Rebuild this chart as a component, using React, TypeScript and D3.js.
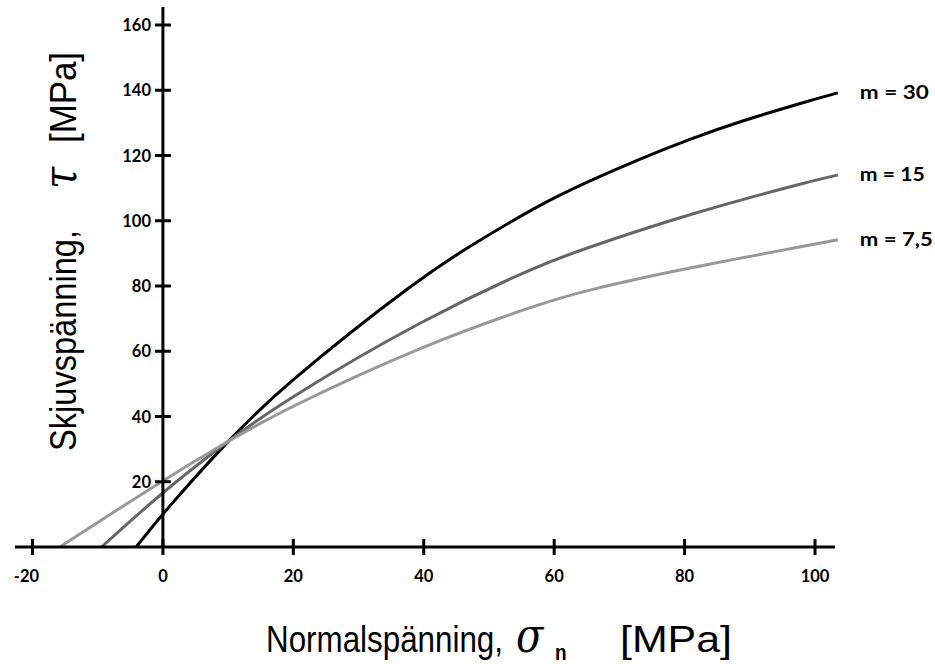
import React from "react";
import * as d3 from "d3";

const xTicks = [-20, 0, 20, 40, 60, 80, 100];
const yTicks = [20, 40, 60, 80, 100, 120, 140, 160];

const curveLabels = ["m = 30", "m = 15", "m = 7,5"];
const curveLabelWidths = [69, 65, 73];
const curveColors = ["#000000", "#666666", "#999999"];

const m30: [number, number][] = [
  [-4.1, 0], [0, 10.4], [9.8, 32.2], [17.9, 48.6], [40, 83.5], [48.3, 93.7],
  [57.8, 105], [65.5, 112.3], [73.2, 119], [80.8, 125], [88.5, 130.5],
  [100, 137.3], [103.5, 139.2],
];
const m15: [number, number][] = [
  [-9.4, 0], [0, 17], [9.8, 32.2], [17.9, 44], [40, 70], [57.8, 86.5],
  [64, 91], [80.8, 102.2], [100, 112.5], [103.5, 114],
];
const m75: [number, number][] = [
  [-15.8, 0], [0, 20.5], [9.8, 32.2], [17.9, 41.5], [40, 62], [57.8, 74.5],
  [64, 78.3], [80.8, 85.7], [100, 92.8], [103.5, 94.2],
];

const series = [m30, m15, m75];

export default function App() {
  const x = d3.scaleLinear().domain([-20, 100]).range([32.5, 815]);
  const y = d3.scaleLinear().domain([0, 160]).range([547, 25]);
  const line = d3
    .line<[number, number]>()
    .x((d) => x(d[0]))
    .y((d) => y(d[1]))
    .curve(d3.curveBasis);

  const x0 = x(0);
  const y0 = y(0);
  const tickFont = "Lato, 'Open Sans', sans-serif";
  const titleFont = "'Liberation Sans', Arial, sans-serif";
  const mathFont = "'DejaVu Serif', serif";

  return (
    <svg
      width={935}
      height={664}
      style={{ position: "absolute", left: 0, top: 0, background: "#fff" }}
    >
      {/* curves */}
      {series.map((s, i) => (
        <path
          key={i}
          d={line(s) || ""}
          fill="none"
          stroke={curveColors[i]}
          strokeWidth={3}
        />
      ))}

      {/* axes */}
      <line x1={15} x2={835} y1={y0} y2={y0} stroke="#000" strokeWidth={3} />
      <line x1={x0} x2={x0} y1={y0} y2={7} stroke="#000" strokeWidth={3} />

      {xTicks.map((t) => (
        <g key={"x" + t}>
          <line x1={x(t)} x2={x(t)} y1={y0 - 8} y2={y0 + 8} stroke="#000" strokeWidth={3} />
          <text
            x={x(t) - (t < 0 ? 6 : 0)}
            y={582}
            textAnchor="middle"
            fontFamily={tickFont}
            fontWeight="bold"
            fontSize={16.5}
            fill="#000"
          >
            {t}
          </text>
        </g>
      ))}

      {yTicks.map((t) => (
        <g key={"y" + t}>
          <line x1={x0 - 8} x2={x0 + 8} y1={y(t)} y2={y(t)} stroke="#000" strokeWidth={3} />
          <text
            x={151}
            y={y(t) + 6}
            textAnchor="end"
            fontFamily={tickFont}
            fontWeight="bold"
            fontSize={16.5}
            fill="#000"
          >
            {t}
          </text>
        </g>
      ))}

      {/* curve labels */}
      {series.map((s, i) => {
        const last = s[s.length - 1];
        return (
          <text
            key={"l" + i}
            x={x(last[0]) + 22}
            y={y(last[1]) + 6}
            fontFamily={tickFont}
            fontWeight="bold"
            fontSize={19}
            textLength={curveLabelWidths[i]}
            lengthAdjust="spacingAndGlyphs"
            fill="#000"
          >
            {curveLabels[i]}
          </text>
        );
      })}

      {/* x title */}
      <g transform="translate(268,652) scale(1,1.2)" fill="#000">
        <text x={-2} y={0} fontFamily={titleFont} fontSize={31} textLength={237} lengthAdjust="spacingAndGlyphs">
          Normalspänning,
        </text>
        <text x={248} y={0} fontFamily={mathFont} fontStyle="italic" fontSize={40}>
          σ
        </text>
        <text x={287} y={7} fontFamily={titleFont} fontWeight="bold" fontSize={19}>
          n
        </text>
        <text x={352} y={0} fontFamily={titleFont} fontSize={31} textLength={112} lengthAdjust="spacingAndGlyphs">
          [MPa]
        </text>
      </g>

      {/* y title */}
      <g transform="translate(76,449) rotate(-90) scale(1,1.18)" fill="#000">
        <text x={-2} y={0} fontFamily={titleFont} fontSize={32} textLength={221} lengthAdjust="spacingAndGlyphs">
          Skjuvspänning,
        </text>
        <text x={260} y={0} fontFamily={mathFont} fontStyle="italic" fontSize={40}>
          τ
        </text>
        <text x={306} y={0} fontFamily={titleFont} fontSize={32} textLength={91} lengthAdjust="spacingAndGlyphs">
          [MPa]
        </text>
      </g>
    </svg>
  );
}
